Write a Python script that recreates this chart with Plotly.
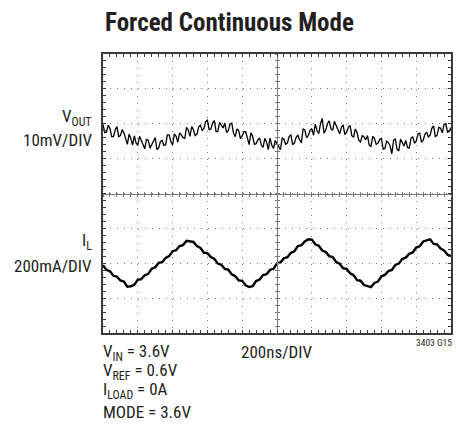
import plotly.graph_objects as go

# ---------------- data ----------------
# V_OUT, AC, mV relative to screen centre (10mV/DIV), one sample every 10 ns
vout_step_ns = 10
vout_mv = [
    19.8, 17.5, 17.6, 19.6, 18.6, 16.3, 16.3, 18.2, 19.2, 16.3, 16.6, 18.3, 17.4, 16.0, 14.1, 17.0, 15.8, 13.9, 16.5, 14.5,
    13.8, 16.4, 15.3, 13.7, 12.8, 15.5, 15.3, 13.0, 14.1, 15.0, 16.0, 12.6, 13.1, 14.9, 15.2, 13.8, 14.0, 16.8, 16.8, 14.9,
    13.9, 17.1, 16.4, 14.7, 17.4, 16.8, 16.0, 15.8, 19.0, 18.2, 16.4, 19.2, 18.2, 16.6, 17.0, 19.1, 19.6, 18.1, 18.6, 20.6,
    21.0, 18.3, 18.5, 20.2, 20.9, 17.7, 17.8, 20.4, 19.4, 18.8, 20.2, 17.5, 18.0, 19.9, 20.2, 17.3, 16.3, 18.5, 18.0, 15.7,
    16.5, 17.7, 17.7, 15.6, 14.0, 17.4, 16.4, 14.1, 14.3, 15.4, 15.9, 13.9, 13.2, 15.8, 14.8, 12.6, 15.9, 13.8, 12.9, 15.2,
    14.3, 13.1, 12.6, 16.0, 15.5, 14.1, 14.5, 16.4, 16.8, 14.0, 14.5, 16.1, 16.7, 15.4, 14.5, 18.5, 18.2, 16.0, 16.6, 18.1,
    18.6, 16.7, 19.9, 18.0, 17.2, 20.0, 21.5, 17.3, 18.2, 20.0, 20.8, 18.6, 18.1, 20.7, 19.5, 18.0, 17.1, 19.0, 19.7, 16.9,
    17.6, 19.0, 19.5, 16.6, 16.1, 18.5, 17.4, 15.3, 14.8, 16.6, 16.2, 15.4, 16.6, 13.9, 13.5, 16.4, 15.8, 14.1, 14.4, 15.5,
    15.8, 12.7, 12.9, 15.0, 14.6, 13.6, 11.4, 15.3, 15.6, 12.7, 12.2, 15.6, 14.4, 13.6, 15.2, 13.2, 13.0, 15.8, 16.3, 14.4,
    15.0, 17.1, 17.3, 14.8, 15.2, 17.0, 17.6, 16.2, 16.7, 18.7, 19.4, 16.3, 16.7, 19.0, 18.7, 17.4, 19.8, 20.0, 17.6, 17.8,
    18.9,
]

# I_L, mA relative to screen centre (200mA/DIV), one sample every 20 ns
il_step_ns = 20
il_ma = [
    -411, -438, -446, -472, -477, -499, -505, -535, -532, -523,
    -495, -491, -469, -461, -432, -423, -398, -394, -369, -359,
    -331, -325, -301, -296, -271, -273, -278, -302, -312, -340,
    -342, -365, -375, -402, -409, -433, -437, -464, -474, -498,
    -501, -527, -536, -531, -502, -493, -468, -463, -438, -432,
    -400, -395, -371, -365, -340, -331, -302, -297, -275, -262,
    -264, -291, -300, -327, -335, -359, -365, -393, -403, -429,
    -432, -457, -468, -497, -500, -525, -533, -537, -513, -505,
    -475, -467, -445, -438, -410, -402, -375, -368, -346, -338,
    -310, -302, -275, -269, -263, -289, -292, -316, -326, -351,
    -359,
]

time_range_ns = [0, 2000]
vout_range_mv = [-40, 40]
il_range_ma = [-800, 800]

title_text = "<b>Forced Continuous Mode</b>"
vout_labels = ["V<sub>OUT</sub>", "10mV/DIV"]
il_labels = ["I<sub>L</sub>", "200mA/DIV"]
cond_labels = ["V<sub>IN</sub> = 3.6V", "V<sub>REF</sub> = 0.6V",
               "I<sub>LOAD</sub> = 0A", "MODE = 3.6V"]
time_label = "200ns/DIV"
fig_id = "3403 G15"

# ---------------- layout ----------------
W, H = 456, 427
ML, MR, MT, MB = 103, 3, 54, 94
PW, PH = W - ML - MR, H - MT - MB

FONT = "Liberation Sans Narrow, Arial Narrow, Roboto Condensed, Roboto, sans-serif"
TXT = "#231f20"
FRAME = "#3a3a3a"
GRID = "#7a7a7a"


def px(x):
    return (x - ML) / PW


def py(y):
    return (H - MB - y) / PH


fig = go.Figure()
fig.add_trace(go.Scatter(x0=0, dx=vout_step_ns, y=vout_mv, mode="lines",
                         line=dict(color="black", width=1.3), yaxis="y",
                         showlegend=False, hoverinfo="skip"))
fig.add_trace(go.Scatter(x0=0, dx=il_step_ns, y=il_ma, mode="lines",
                         line=dict(color="black", width=2.4), yaxis="y2",
                         showlegend=False, hoverinfo="skip"))
# empty traces so that the centre cross-hair axes get drawn
for xa, ya in (("x2", "y"), ("x3", "y"), ("x", "y3"), ("x", "y4")):
    fig.add_trace(go.Scatter(x=[None], y=[None], xaxis=xa, yaxis=ya, mode="lines",
                             showlegend=False, hoverinfo="skip"))

grid_common = dict(showgrid=True, gridcolor=GRID, gridwidth=1, griddash="1px,6px",
                   zeroline=False, showticklabels=False, showline=True,
                   linecolor=FRAME, linewidth=1.5, mirror="ticks",
                   ticks="inside", ticklen=3, tickcolor=FRAME, tickwidth=1)

centre_common = dict(anchor="free", position=0.5, showticklabels=False,
                     showgrid=False, zeroline=False, tickcolor=GRID,
                     ticklen=2, tickwidth=1)

fig.update_layout(
    width=W, height=H,
    margin=dict(l=ML, r=MR, t=MT, b=MB, pad=0),
    paper_bgcolor="white", plot_bgcolor="white",
    font=dict(family=FONT, color=TXT, size=17),
    xaxis=dict(range=time_range_ns, dtick=200, tick0=0,
               minor=dict(dtick=40, ticks="inside", ticklen=3, tickcolor=FRAME),
               **grid_common),
    yaxis=dict(range=vout_range_mv, dtick=10, tick0=0,
               minor=dict(dtick=2, ticks="inside", ticklen=3, tickcolor=FRAME),
               **grid_common),
    yaxis2=dict(range=il_range_ma, overlaying="y", visible=False),
    xaxis2=dict(range=time_range_ns, overlaying="x", dtick=40, tick0=0,
                showline=True, linecolor=GRID, linewidth=1, ticks="inside",
                **centre_common),
    xaxis3=dict(range=time_range_ns, overlaying="x", dtick=40, tick0=0,
                showline=False, ticks="outside", **centre_common),
    yaxis3=dict(range=vout_range_mv, overlaying="y", dtick=2, tick0=0,
                showline=True, linecolor=GRID, linewidth=1, ticks="inside",
                **centre_common),
    yaxis4=dict(range=vout_range_mv, overlaying="y", dtick=2, tick0=0,
                showline=False, ticks="outside", **centre_common),
)

ann = []


def add(text, x, y, xanchor="left", size=17):
    ann.append(dict(text=text, x=px(x), y=py(y), xref="paper", yref="paper",
                    xanchor=xanchor, yanchor="middle", showarrow=False,
                    font=dict(family=FONT, size=size, color=TXT)))


add(title_text, 230, 22, xanchor="center", size=25)
add(vout_labels[0], 94, 117, xanchor="right")
add(vout_labels[1], 94, 140, xanchor="right")
add(il_labels[0], 94, 242, xanchor="right")
add(il_labels[1], 94, 266, xanchor="right")
for t, y in zip(cond_labels, (352, 372, 390, 412)):
    add(t, 101, y)
add(time_label, 240, 352)
add(fig_id, 456, 342, xanchor="right", size=9.5)

fig.update_layout(annotations=ann)
fig.write_html("out.html", config={"displayModeBar": False},
               post_script="document.body.style.margin='0px';document.body.style.overflow='hidden';")
